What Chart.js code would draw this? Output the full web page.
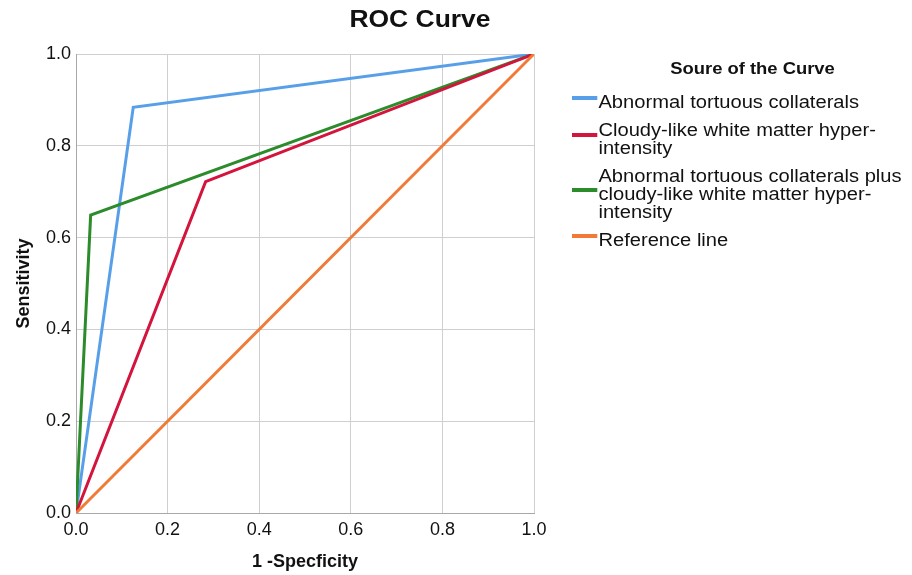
<!DOCTYPE html>
<html>
<head>
<meta charset="utf-8">
<script src="https://cdn.jsdelivr.net/npm/chart.js@4.4.1/dist/chart.umd.min.js"></script>
<style>
  body { margin: 0; background: #fff; font-family: "Liberation Sans", Arial, sans-serif; }
  #wrap { position: relative; width: 912px; height: 575px; }
  #title { position: absolute; top: 6px; left: 320px; width: 200px; text-align: center; font-weight: bold; font-size: 23px; color: #111; transform: scaleX(1.15); }
  #legend { position: absolute; left: 572px; top: 60px; width: 300px; font-size: 17.5px; line-height: 18px; color: #111; transform: scaleX(1.15); transform-origin: 0 0; }
  #legend .head { font-weight: bold; font-size: 16px; text-align: center; margin-left: 28px; width: 258px; margin-bottom: 15px; }
  #legend .item { display: flex; align-items: center; margin-bottom: 10px; }
  #legend .sw { width: 22px; height: 4px; margin-right: 1px; flex: none; transform: translateY(-4px); }
</style>
</head>
<body>
<div id="wrap">
  <canvas id="roc" width="912" height="575"></canvas>
  <div id="title">ROC Curve</div>
  <div id="legend"></div>
</div>
<script>
// series names and colors
const seriesNames = [
  'Abnormal tortuous collaterals',
  'Cloudy-like white matter hyper-<br>intensity',
  'Abnormal tortuous collaterals plus<br>cloudy-like white matter hyper-<br>intensity',
  'Reference line'
];
const seriesColors = ['#589fe9', '#d3143d', '#2c8b2a', '#f07a36'];

// 1 - specificity (x) and sensitivity (y) for each curve
const blueX = [0, 0.125, 1];
const blueY = [0, 0.884, 1];
const redX = [0, 0.283, 1];
const redY = [0, 0.722, 1];
const greenX = [0, 0.032, 1];
const greenY = [0, 0.649, 1];
const refX = [0, 1];
const refY = [0, 1];

const tickValues = [0, 0.2, 0.4, 0.6, 0.8, 1.0];

const toPts = (xs, ys) => xs.map((x, i) => ({x: x, y: ys[i]}));
const allX = [blueX, redX, greenX, refX];
const allY = [blueY, redY, greenY, refY];

// draw reference first so colored curves sit over it, like the picture
const order = [3, 1, 2, 0];
const datasets = order.map(i => ({
  label: seriesNames[i],
  data: toPts(allX[i], allY[i]),
  borderColor: seriesColors[i],
  backgroundColor: seriesColors[i],
  borderWidth: 3,
  pointRadius: 0,
  showLine: true,
  fill: false,
  tension: 0
}));

// html legend (labels wrap like the original)
const leg = document.getElementById('legend');
leg.innerHTML = '<div class="head">Soure of the Curve</div>' + seriesNames.map((n, i) =>
  `<div class="item"><span class="sw" style="background:${seriesColors[i]}"></span><span>${n}</span></div>`
).join('');

const font = { family: '"Liberation Sans", Arial, sans-serif', size: 18 };

new Chart(document.getElementById('roc'), {
  type: 'scatter',
  data: { datasets },
  options: {
    responsive: false,
    animation: false,
    layout: { padding: { top: 54, right: 378, left: 0, bottom: 0 } },
    plugins: { legend: { display: false }, tooltip: { enabled: false } },
    scales: {
      x: {
        type: 'linear', min: 0, max: 1,
        afterBuildTicks: s => { s.ticks = tickValues.map(v => ({value: v})); },
        afterFit: s => { s.height = 62; },
        ticks: { color: '#111', font, padding: 6, callback: v => v.toFixed(1) },
        grid: { color: '#cfcfcf', lineWidth: 1, drawTicks: false },
        border: { color: '#a8a8a8' },
        title: { display: true, text: '1 -Specficity', color: '#111', font: { ...font, weight: 'bold' }, padding: { top: 12, bottom: 2 } }
      },
      y: {
        type: 'linear', min: 0, max: 1,
        afterBuildTicks: s => { s.ticks = tickValues.map(v => ({value: v})); },
        afterFit: s => { s.width = 76; },
        ticks: { color: '#111', font, padding: 5, callback: v => v.toFixed(1) },
        grid: { color: '#cfcfcf', lineWidth: 1, drawTicks: false },
        border: { color: '#a8a8a8' },
        title: { display: true, text: 'Sensitivity', color: '#111', font: { ...font, weight: 'bold' }, padding: { top: 13, bottom: 4 } }
      }
    }
  }
});
</script>
</body>
</html>
